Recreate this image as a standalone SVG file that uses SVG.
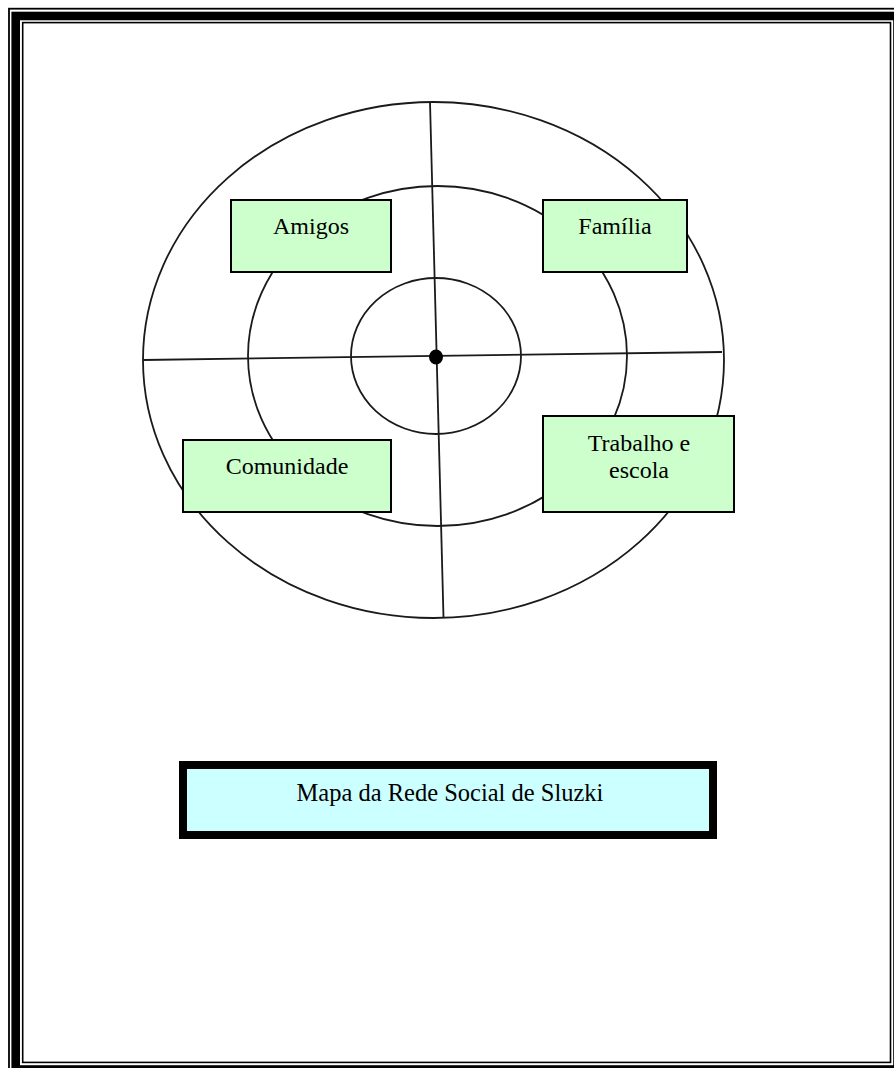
<svg xmlns="http://www.w3.org/2000/svg" width="894" height="1068" viewBox="0 0 894 1068">
<style>
.ring{fill:none;stroke:#1a1a1a;stroke-width:1.8}
.axis{stroke:#1a1a1a;stroke-width:1.8;fill:none}
.box{fill:#ccffcc;stroke:#000;stroke-width:2}
.lbl{font-family:"Liberation Serif","Times New Roman",serif;font-size:24px;fill:#000;text-anchor:middle}
.title{font-family:"Liberation Serif","Times New Roman",serif;font-size:24.5px;fill:#000;text-anchor:middle}
</style>
<rect width="894" height="1068" fill="#ffffff"/>
<g id="page-border" fill="none" stroke="#000">
  <rect x="9" y="8.7" width="900" height="1070" stroke-width="1.8"/>
  <rect x="15.7" y="16" width="881.8" height="1053.5" stroke-width="8.6"/>
  <rect x="22.7" y="22.6" width="867.8" height="1039.8" stroke-width="1.6"/>
</g>
<g id="target">
  <ellipse class="ring" cx="433.5" cy="360" rx="290.5" ry="258"/>
  <ellipse class="ring" cx="437.5" cy="356" rx="189.5" ry="170"/>
  <ellipse class="ring" cx="436" cy="356" rx="85" ry="78"/>
</g>
<g id="connectors">
  <line class="axis" x1="143" y1="360" x2="722" y2="352"/>
  <line class="axis" x1="430" y1="102" x2="443.5" y2="617.5"/>
  <ellipse cx="436" cy="357" rx="7" ry="7.5" fill="#000"/>
</g>
<g id="node-amigos">
  <rect class="box" x="231" y="200" width="160" height="72"/>
  <text class="lbl" x="311" y="234">Amigos</text>
</g>
<g id="node-familia">
  <rect class="box" x="543" y="200" width="144" height="72"/>
  <text class="lbl" x="615" y="234">Família</text>
</g>
<g id="node-comunidade">
  <rect class="box" x="183" y="440" width="208" height="72"/>
  <text class="lbl" x="287" y="474">Comunidade</text>
</g>
<g id="node-trabalho">
  <rect class="box" x="543" y="416" width="191" height="96"/>
  <text class="lbl" x="639" y="451">Trabalho e</text>
  <text class="lbl" x="639" y="478">escola</text>
</g>
<g id="node-title">
  <rect x="183" y="765" width="530" height="70" fill="#ccffff" stroke="#000" stroke-width="8"/>
  <text class="title" x="450" y="801">Mapa da Rede Social de Sluzki</text>
</g>
</svg>
